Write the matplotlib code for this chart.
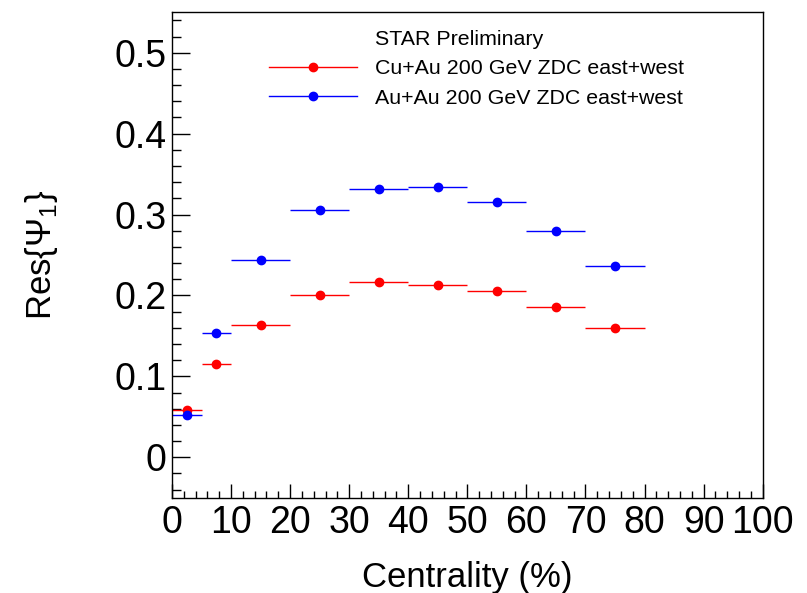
import matplotlib
matplotlib.use("Agg")
import matplotlib.pyplot as plt
from matplotlib.lines import Line2D
from matplotlib.ticker import MultipleLocator

plt.rcParams['font.family'] = ['Liberation Sans', 'DejaVu Sans']
plt.rcParams['mathtext.fontset'] = 'custom'
plt.rcParams['mathtext.rm'] = 'Liberation Sans'

# centrality bins (%)
bin_lo = [0, 5, 10, 20, 30, 40, 50, 60, 70]
bin_hi = [5, 10, 20, 30, 40, 50, 60, 70, 80]
cuau_res = [0.059, 0.115, 0.163, 0.200, 0.217, 0.213, 0.205, 0.186, 0.160]
auau_res = [0.052, 0.153, 0.244, 0.306, 0.332, 0.334, 0.315, 0.280, 0.236]

labels = ["STAR Preliminary",
          "Cu+Au 200 GeV ZDC east+west",
          "Au+Au 200 GeV ZDC east+west"]

centers = [(a + b) / 2 for a, b in zip(bin_lo, bin_hi)]
halfw = [(b - a) / 2 for a, b in zip(bin_lo, bin_hi)]

fig = plt.figure(figsize=(8.07, 5.93), dpi=100)
ax = fig.add_axes([0.2131, 0.1607, 0.7320, 0.8186])

ax.errorbar(centers, cuau_res, xerr=halfw, fmt='o', color='#ff0000',
            ms=6, elinewidth=1, capsize=0)
ax.errorbar(centers, auau_res, xerr=halfw, fmt='o', color='#0000ff',
            ms=6, elinewidth=1, capsize=0)

ax.set_xlim(0, 100)
ax.set_ylim(-0.05, 0.55)
ax.xaxis.set_major_locator(MultipleLocator(10))
ax.xaxis.set_minor_locator(MultipleLocator(2))
ax.yaxis.set_minor_locator(MultipleLocator(0.02))
ax.set_yticks([0, 0.1, 0.2, 0.3, 0.4, 0.5])
ax.set_yticklabels(["0", "0.1", "0.2", "0.3", "0.4", "0.5"])

ax.tick_params(axis='both', which='both', direction='in', top=False, right=False,
               labelsize=27, width=1)
ax.tick_params(axis='y', which='major', length=13, pad=4)
ax.tick_params(axis='y', which='minor', length=6.5)
ax.tick_params(axis='x', which='major', length=10, pad=5)
ax.tick_params(axis='x', which='minor', length=5)
for s in ax.spines.values():
    s.set_linewidth(1)

ax.set_xlabel("Centrality (%)", fontsize=25)
ax.xaxis.set_label_coords(0.5, -0.13)
ax.set_ylabel(r"Res$\{\Psi_1\}$", fontsize=25)
ax.yaxis.set_label_coords(-0.19, 0.5)

handles = [Line2D([], [], linestyle='none'),
           Line2D([], [], color='#ff0000', marker='o', ms=6, lw=1),
           Line2D([], [], color='#0000ff', marker='o', ms=6, lw=1)]
ax.legend(handles, labels, loc='upper left', bbox_to_anchor=(0.15, 0.982),
          frameon=False, fontsize=15.4, handlelength=4.1, handletextpad=0.85,
          labelspacing=0.5, borderaxespad=0)

fig.savefig("out.png", dpi=100)
